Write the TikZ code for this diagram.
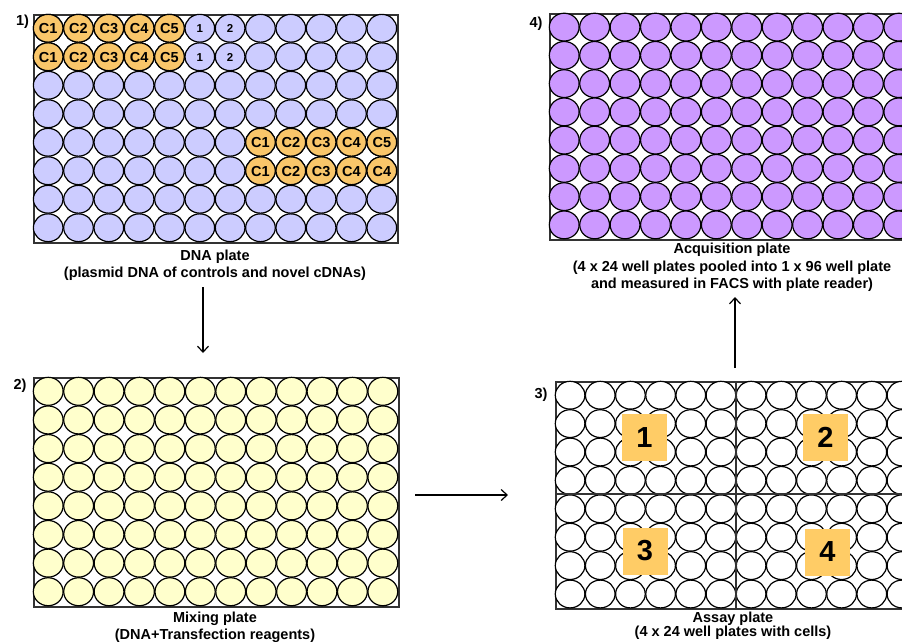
\documentclass[tikz,border=0pt]{standalone}
\usepackage{fontspec}
\setmainfont{Liberation Sans}
\usetikzlibrary{arrows.meta}
\definecolor{lav}{HTML}{CCCCFF}
\definecolor{ctrl}{HTML}{F9C66A}
\definecolor{mix}{HTML}{FFFFCC}
\definecolor{acq}{HTML}{CC99FF}
\definecolor{sqc}{HTML}{FFCC66}
\definecolor{framec}{HTML}{333333}
\begin{document}
\begin{tikzpicture}[x=1pt,y=-1pt,
  plate/.style={draw=framec, line width=2pt, fill=white, inner sep=0pt, anchor=north west},
  well/.style={draw=black, line width=1.2pt},
  wlab/.style={font=\bfseries\fontsize{14.5}{14.5}\selectfont, inner sep=0pt},
  nlab/.style={font=\bfseries\fontsize{11.5}{11.5}\selectfont, inner sep=0pt},
  steplabel/.style={font=\bfseries\fontsize{14.5}{14.5}\selectfont, inner sep=0pt},
  capt/.style={font=\bfseries\fontsize{14.5}{17}\selectfont, align=center, inner sep=0pt, anchor=north},
  sq/.style={fill=sqc, minimum width=45pt, minimum height=47pt, inner sep=0pt, font=\bfseries\fontsize{29}{29}\selectfont},
  divider/.style={draw=framec, line width=2pt},
  arr/.style={-{Straight Barb[length=6pt,width=11pt]}, line width=1.2pt}
]
\clip (0,0) rectangle (902,641);
\fill[white] (0,0) rectangle (902,641);

% ---------- 1) DNA plate ----------
\node[plate, minimum width=364pt, minimum height=228pt] (p1) at (33,14) {};
\foreach \c in {0,...,11}{\foreach \r in {0,...,7}{
  \draw[well,fill=lav] ({33+30.33*(\c+0.5)},{14+28.5*(\r+0.5)}) ellipse [x radius=14.8pt, y radius=13.9pt];}}
\foreach \c/\t in {0/C1,1/C2,2/C3,3/C4,4/C5}{\foreach \r in {0,1}{
  \draw[well,fill=ctrl] ({33+30.33*(\c+0.5)},{14+28.5*(\r+0.5)}) ellipse [x radius=14.8pt, y radius=13.9pt];
  \node[wlab] (wa-\r-\c) at ({33+30.33*(\c+0.5)},{14.5+28.5*(\r+0.5)}) {\t};}}
\foreach \c/\t in {5/1,6/2}{\foreach \r in {0,1}{
  \node[nlab] (wb-\r-\c) at ({33+30.33*(\c+0.5)},{14.5+28.5*(\r+0.5)}) {\t};}}
\foreach \c/\t/\u in {7/C1/C1,8/C2/C2,9/C3/C3,10/C4/C4,11/C5/C4}{
  \draw[well,fill=ctrl] ({33+30.33*(\c+0.5)},{14+28.5*4.5}) ellipse [x radius=14.8pt, y radius=13.9pt];
  \draw[well,fill=ctrl] ({33+30.33*(\c+0.5)},{14+28.5*5.5}) ellipse [x radius=14.8pt, y radius=13.9pt];
  \node[wlab] (wc-4-\c) at ({33+30.33*(\c+0.5)},{14.5+28.5*4.5}) {\t};
  \node[wlab] (wc-5-\c) at ({33+30.33*(\c+0.5)},{14.5+28.5*5.5}) {\u};}
\node[steplabel] (s1) at (22.5,22) {1)};
\node[capt] (c1) at (215,250) {DNA plate\\(plasmid DNA of controls and novel cDNAs)};

% ---------- 2) Mixing plate ----------
\node[plate, minimum width=365pt, minimum height=229pt] (p2) at (33,377) {};
\foreach \c in {0,...,11}{\foreach \r in {0,...,7}{
  \draw[well,fill=mix] ({33+30.42*(\c+0.5)},{377+28.63*(\r+0.5)}) ellipse [x radius=14.9pt, y radius=14pt];}}
\node[steplabel] (s2) at (20,386) {2)};
\node[capt, font=\bfseries\fontsize{14.5}{16.5}\selectfont] (c2) at (215,612) {Mixing plate\\(DNA+Transfection reagents)};

% ---------- 3) Assay plate ----------
\node[plate, minimum width=362pt, minimum height=227pt] (p3) at (555,381) {};
\foreach \c in {0,...,11}{\foreach \r in {0,...,7}{
  \draw[well,fill=white] ({555+30.17*(\c+0.5)},{381+28.4*(\r+0.5)}) ellipse [x radius=14.8pt, y radius=13.9pt];}}
\draw[divider] (736,381) -- (736,608);
\draw[divider] (555,493.5) -- (917,493.5);
\node[sq] (q1) at (644.5,437.5) {1};
\node[sq] (q2) at (825.5,437) {2};
\node[sq] (q3) at (645,551) {3};
\node[sq] (q4) at (827.5,552) {4};
\node[steplabel] (s3) at (541,395) {3)};
\node[capt, font=\bfseries\fontsize{14.5}{14.5}\selectfont] (c3) at (733,611.5) {Assay plate\\(4 x 24 well plates with cells)};

% ---------- 4) Acquisition plate ----------
\node[plate, minimum width=365pt, minimum height=226pt] (p4) at (549,13) {};
\foreach \c in {0,...,11}{\foreach \r in {0,...,7}{
  \draw[well,fill=acq] ({549+30.42*(\c+0.5)},{13+28.25*(\r+0.5)}) ellipse [x radius=14.9pt, y radius=13.9pt];}}
\node[steplabel] (s4) at (536,24) {4)};
\node[capt, font=\bfseries\fontsize{14.5}{17.5}\selectfont] (c4) at (732,243) {Acquisition plate\\(4 x 24 well plates pooled into 1 x 96 well plate\\and measured in FACS with plate reader)};

% ---------- arrows ----------
\coordinate (a1s) at (203,287);
\coordinate (a1e) at (203,353);
\coordinate (a2s) at (415,495);
\coordinate (a2e) at (508,495);
\coordinate (a3s) at (735,368);
\coordinate (a3e) at (735,297);
\draw[arr] (a1s) -- (a1e);
\draw[arr] (a2s) -- (a2e);
\draw[arr] (a3s) -- (a3e);
\end{tikzpicture}
\end{document}
